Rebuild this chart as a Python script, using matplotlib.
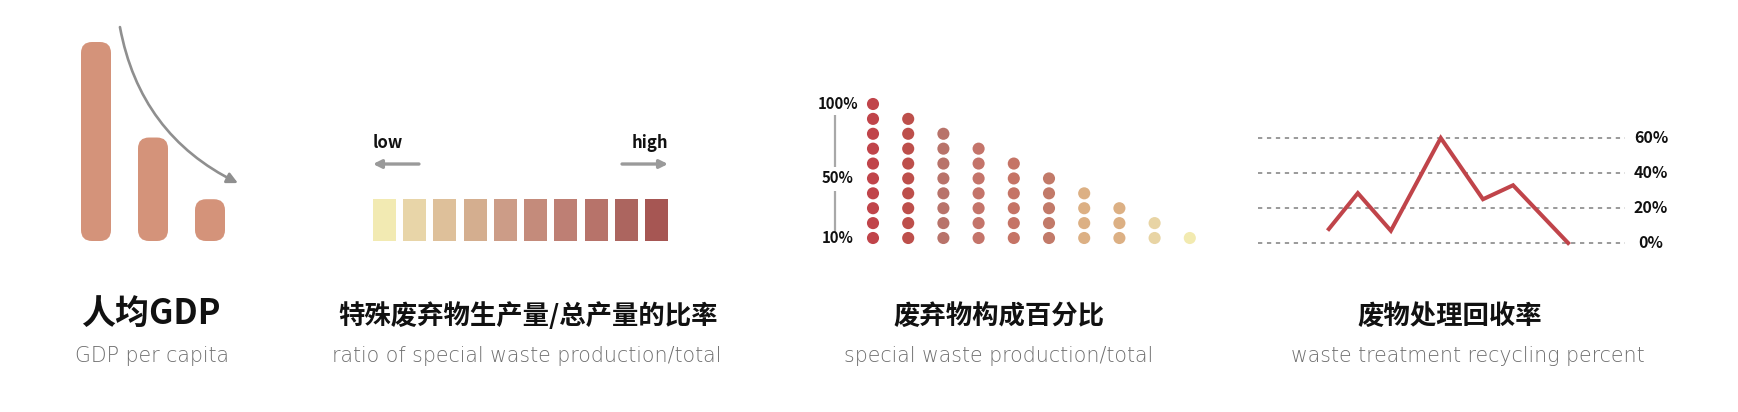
import matplotlib
matplotlib.use("Agg")
import matplotlib.pyplot as plt
from matplotlib.patches import FancyBboxPatch

plt.rcParams['font.family'] = ['Noto Sans CJK SC', 'DejaVu Sans']

# ---------------- data ----------------
gdp_heights = [100, 52, 21]
gdp_color = '#D4937A'

ratio_levels = list(range(1, 11))
ratio_colors = ['#F2EAB2', '#E8D5A8', '#DEC09A', '#D4AE8F', '#CC9C87',
                '#C48B7B', '#BE7F74', '#B7736A', '#AC655F', '#A65653']

dot_counts = [10, 9, 8, 7, 6, 5, 4, 3, 2, 1]
dot_colors = ['#C0444A', '#BD4F4B', '#B8736A', '#C4746A', '#C57466',
              '#C27A69', '#DCB084', '#DCB084', '#E8D4A4', '#F2EAB0']
dot_labels = ['100%', '50%', '10%']
dot_label_vals = [100, 50, 10]

recyc_x = [19.3, 27.2, 36.2, 49.8, 61.3, 69.5, 84.5]
recyc_y = [8, 28.5, 7, 60, 25, 33, 0]
recyc_ticks = [0, 20, 40, 60]
recyc_ticklabels = ['0%', '20%', '40%', '60%']

titles_cn = ['人均GDP', '特殊废弃物生产量/总产量的比率', '废弃物构成百分比', '废物处理回收率']
titles_en = ['GDP per capita', 'ratio of special waste production/total',
             'special waste production/total', 'waste treatment recycling percent']

# ---------------- figure ----------------
W, H = 1738, 412
fig = plt.figure(figsize=(W / 100, H / 100), dpi=100)
fig.patch.set_facecolor('white')


def add_ax(x0, y0, x1, y1, xlim, ylim):
    ax = fig.add_axes([x0 / W, 1 - y1 / H, (x1 - x0) / W, (y1 - y0) / H])
    ax.set_xlim(*xlim)
    ax.set_ylim(*ylim)
    ax.axis('off')
    sx = (x1 - x0) / (xlim[1] - xlim[0])
    sy = (y1 - y0) / (ylim[1] - ylim[0])
    return ax, sx, sy


# ---- panel 1: GDP bars ----
ax1, sx, sy = add_ax(60, 20, 250, 241, (-36 / 57, 154 / 57), (0, 221 / 1.99))
bw = 30 / sx
r = 11 / sx
for i, h in enumerate(gdp_heights):
    p = FancyBboxPatch((i - bw / 2, 0), bw, h,
                       boxstyle=f"round,pad=0,rounding_size={r}",
                       mutation_aspect=sx / sy, fc=gdp_color, ec='none')
    ax1.add_patch(p)
ax1.annotate('', xy=(2.49, 29.1), xytext=(0.42, 107.5), annotation_clip=False,
             arrowprops=dict(arrowstyle='-|>', connectionstyle='arc3,rad=0.25',
                             color='#8F8F8F', lw=1.9, mutation_scale=16,
                             shrinkA=0, shrinkB=0))

# ---- panel 2: ratio colour scale ----
ax2, sx, sy = add_ax(360, 110, 690, 250,
                     ((360 - 384.5) / 30.22, (690 - 384.5) / 30.22),
                     (-9 / 42, 131 / 42))
sq_w = 23 / 30.22
ax2.bar([l - 1 for l in ratio_levels], [1] * len(ratio_levels), width=sq_w,
        color=ratio_colors, edgecolor='none')
left_edge = -sq_w / 2
right_edge = len(ratio_levels) - 1 + sq_w / 2
ax2.text(left_edge, 2.333, 'low', ha='left', va='center', fontsize=12,
         fontweight='bold', color='#111111')
ax2.text(right_edge, 2.333, 'high', ha='right', va='center', fontsize=12,
         fontweight='bold', color='#111111')
ax2.annotate('', xy=(left_edge, 1.833), xytext=(1.14, 1.833), annotation_clip=False,
             arrowprops=dict(arrowstyle='-|>', color='#9A9A9A', lw=2.4,
                             mutation_scale=12, shrinkA=0, shrinkB=0))
ax2.annotate('', xy=(right_edge, 1.833), xytext=(7.86, 1.833), annotation_clip=False,
             arrowprops=dict(arrowstyle='-|>', color='#9A9A9A', lw=2.4,
                             mutation_scale=12, shrinkA=0, shrinkB=0))

# ---- panel 3: dot matrix ----
ax3, sx, sy = add_ax(800, 85, 1220, 250,
                     ((800 - 873) / 35.2, (1220 - 873) / 35.2),
                     (10 - (250 - 238) / 1.489, 10 + (238 - 85) / 1.489))
for i, (c, col) in enumerate(zip(dot_counts, dot_colors)):
    ax3.scatter([i] * c, [10 * (k + 1) for k in range(c)], s=76, color=col,
                edgecolors='none')
for lab, v in zip(dot_labels, dot_label_vals):
    ax3.text(-0.994, v, lab, ha='center', va='center', fontsize=10.7,
             fontweight='bold', color='#111111')
ax3.plot([-1.08, -1.08], [57.7, 92.6], color='#A8A8A8', lw=1.6, solid_capstyle='butt')
ax3.plot([-1.08, -1.08], [14, 41.6], color='#A8A8A8', lw=1.6, solid_capstyle='butt')

# ---- panel 4: recycling line ----
ax4, sx, sy = add_ax(1250, 110, 1690, 260,
                     ((1250 - 1258) / 3.67, (1690 - 1258) / 3.67),
                     (-(260 - 243) / 1.75, (243 - 110) / 1.75))
ax4.hlines(recyc_ticks, 0, 100, colors='#9A9A9A', lw=1.4, linestyles=(0, (2.2, 2.4)))
ax4.plot(recyc_x, recyc_y, color='#C0444A', lw=2.9, solid_joinstyle='miter')
for t, lab in zip(recyc_ticks, recyc_ticklabels):
    ax4.text(107.1, t, lab, ha='center', va='center', fontsize=11.5,
             fontweight='bold', color='#111111')

# ---- titles ----
cx_title = [151, 528, 999, 1450]
cy_title = [313, 316, 316, 316]
cx_sub = [152, 527, 999, 1468]
title_sizes = [24.5, 19, 19, 19]
for cx, cy, t, fs in zip(cx_title, cy_title, titles_cn, title_sizes):
    fig.text(cx / W, 1 - cy / H, t, ha='center', va='center', fontsize=fs,
             fontweight='heavy', color='#111111')
for cx, t in zip(cx_sub, titles_en):
    fig.text(cx / W, 1 - 356 / H, t, ha='center', va='center', fontsize=14.8,
             family=['DejaVu Sans'], fontweight='light', color='#6E6E6E')

fig.savefig('out.png', dpi=100, facecolor='white')
